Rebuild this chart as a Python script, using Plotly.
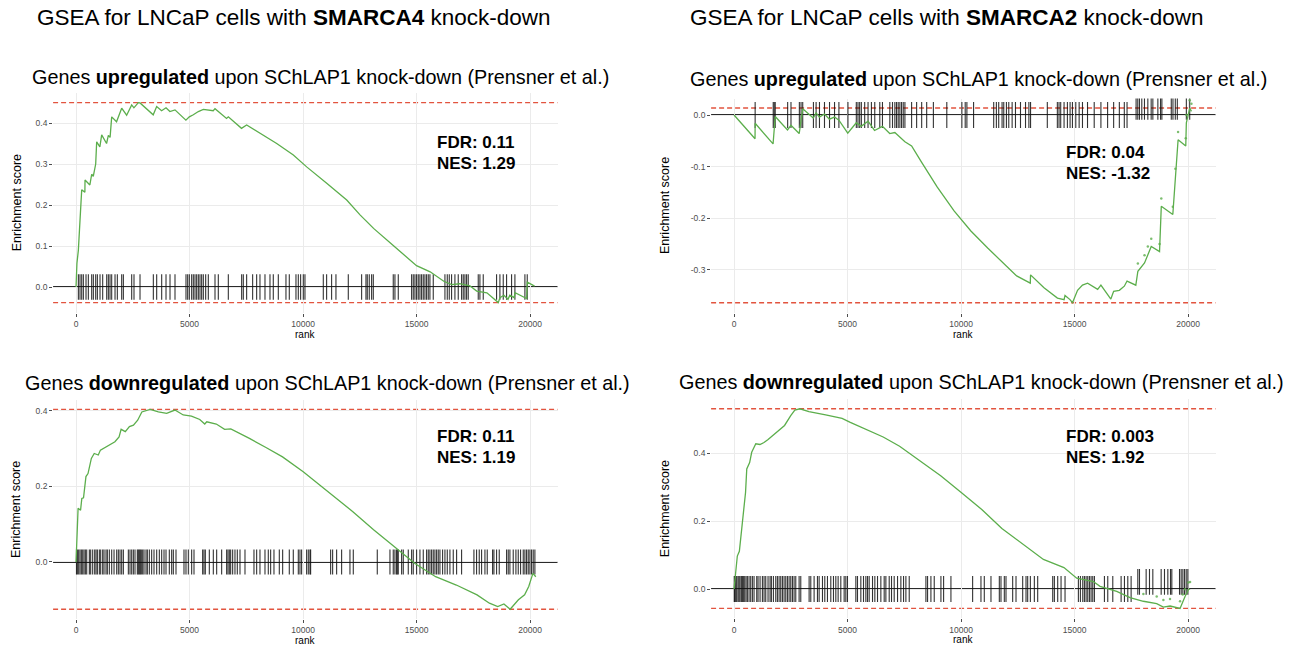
import plotly.graph_objects as go

W, H = 1296, 645
FONT = "Liberation Sans, Arial, Helvetica, sans-serif"

# ---------------- data ----------------
# Panel A: SMARCA4 knock-down, genes upregulated upon SChLAP1 knock-down
a_hits = [103, 176, 250, 323, 440, 543, 690, 763, 866, 940, 1057, 1174, 1351, 1424, 1497, 1571,
          1718, 1820, 2011, 2085, 2452, 2554, 2819, 3406, 3553, 3773, 3964, 4140, 4360, 4844, 4918,
          4991, 5094, 5167, 5241, 5314, 5388, 5461, 5534, 5608, 5711, 5828, 6122, 6268, 6709, 7296,
          7369, 7516, 7780, 7957, 8103, 8324, 8544, 8690, 8911, 9248, 9395, 9689, 9792, 9894, 10012,
          10085, 10893, 11039, 11259, 11450, 11994, 12581, 12772, 12830, 12918, 13021, 13095, 13975,
          14049, 14196, 14783, 14856, 14930, 15003, 15076, 15150, 15223, 15297, 15370, 15443, 15517,
          15590, 15737, 16251, 16354, 16442, 16544, 16691, 16838, 16985, 17058, 17132, 17205, 17278,
          17719, 17792, 17939, 18526, 18673, 18820, 18967, 19187, 19334, 19774, 19877]
a_rank = [0, 40, 103, 176, 250, 390, 396, 610, 690, 760, 866, 910, 1050, 1130, 1345, 1424, 1500,
          1571, 1785, 2011, 2230, 2452, 2550, 2746, 2819, 3400, 3553, 3770, 3964, 4135, 4360, 4840,
          4991, 5167, 5388, 5608, 6045, 6122, 6630, 6709, 7290, 7516, 8103, 8840, 9573, 10160,
          11043, 11925, 12511, 13107, 14000, 15000, 15600, 16200, 16550, 16900, 17350, 17650,
          18100, 18600, 18673, 18850, 19030, 19110, 19300, 19340, 19850, 19877, 20200]
a_es = [0.0, 0.058, 0.09, 0.168, 0.237, 0.231, 0.261, 0.249, 0.275, 0.27, 0.3, 0.354, 0.342, 0.371,
        0.35, 0.37, 0.365, 0.415, 0.403, 0.436, 0.419, 0.444, 0.437, 0.4496, 0.449, 0.42, 0.44, 0.43,
        0.437, 0.428, 0.432, 0.407, 0.415, 0.42, 0.428, 0.433, 0.43, 0.435, 0.411, 0.415, 0.387,
        0.395, 0.375, 0.35, 0.322, 0.293, 0.253, 0.212, 0.176, 0.143, 0.1, 0.052, 0.037, 0.014,
        0.006, 0.008, 0.003, -0.01, -0.014, -0.038, -0.026, -0.02, -0.03, -0.02, -0.026, -0.014,
        -0.028, 0.012, 0.002]

# Panel B: SMARCA2 knock-down, genes upregulated upon SChLAP1 knock-down
b_hits = [930, 1727, 1771, 1815, 2362, 2509, 2878, 2952, 3026, 3498, 3616, 3764, 3985, 4207, 4428,
          4620, 5018, 5387, 5461, 5535, 5609, 5756, 5904, 6052, 6199, 6421, 6539, 6863, 6981, 7085,
          7159, 7232, 7306, 7380, 7454, 7528, 7823, 8044, 8266, 8487, 8782, 9373, 10037, 10184,
          10258, 10553, 11439, 11557, 11660, 11808, 11882, 12000, 12103, 12251, 12398, 12620, 12841,
          12989, 13063, 13801, 14243, 14317, 14391, 14539, 14686, 14804, 14908, 15055, 15203, 15350,
          15572, 15867, 16162, 16457, 16723, 16974, 17193, 17313]
b_hits_late = [17712, 17786, 17860, 17963, 18081, 18229, 18376, 18450, 18671, 18789, 18848, 19262,
               19336, 19439, 19528, 19926, 20074]
b_rank = [0, 925, 930, 1720, 1815, 2355, 2509, 2870, 3026, 3490, 3616, 3760, 3985, 4200, 4428, 4620,
          5010, 5387, 5600, 5904, 6190, 6539, 6860, 7085, 7528, 7823, 8266, 8954, 9694, 10434, 11174,
          11914, 12450, 13050, 13063, 13655, 14247, 14540, 14580, 14800, 14910, 15133, 15350, 15576,
          16019, 16162, 16600, 16723, 16974, 17193, 17313, 17700, 17790, 18083, 18229, 18379, 18745,
          18822, 19330, 19442, 19562, 19900, 19926, 20074, 20150]
b_es = [0.0, -0.046, -0.016, -0.056, -0.003, -0.029, -0.02, -0.036, 0.012, -0.006, 0.004, -0.004,
        0.002, -0.008, -0.004, -0.01, -0.035, -0.015, -0.022, -0.012, -0.03, -0.022, -0.036, -0.034,
        -0.052, -0.06, -0.092, -0.14, -0.186, -0.225, -0.258, -0.29, -0.312, -0.326, -0.31, -0.335,
        -0.355, -0.358, -0.35, -0.358, -0.364, -0.34, -0.33, -0.326, -0.338, -0.33, -0.357, -0.342,
        -0.34, -0.332, -0.322, -0.33, -0.303, -0.287, -0.27, -0.255, -0.265, -0.177, -0.193, -0.119,
        -0.048, -0.06, -0.015, 0.0135, 0.007]

# Panel C: SMARCA4 knock-down, genes downregulated upon SChLAP1 knock-down
c_hits = [20, 59, 117, 176, 235, 294, 352, 411, 470, 587, 646, 734, 822, 881, 940, 1028, 1086, 1174,
          1233, 1321, 1380, 1468, 1571, 1674, 1791, 1864, 1938, 2011, 2085, 2305, 2378, 2452, 2525,
          2598, 2701, 2745, 2789, 2833, 2877, 2936, 2995, 3083, 3142, 3230, 3332, 3435, 3553, 3670,
          3773, 3876, 3964, 4110, 4213, 4287, 4404, 4756, 4844, 4947, 5094, 5197, 5578, 5637, 5696,
          5872, 6048, 6195, 6415, 6635, 6694, 6753, 6812, 6900, 7002, 7105, 7223, 7443, 7839, 7957,
          8103, 8324, 8470, 8573, 8720, 8955, 9102, 9395, 9571, 9792, 9865, 9938, 10158, 10232,
          10305, 10335, 11216, 11304, 11480, 11700, 12067, 12214, 13271, 13829, 13975, 14049, 14122,
          14152, 14196, 14343, 14416, 14636, 14783, 14856, 15003, 15150, 15297, 15443, 15517, 15590,
          15664, 15737, 15810, 15884, 15957, 16031, 16148, 16251, 16354, 16471, 16618, 16765, 16985,
          17528, 17645, 17763, 17866, 18013, 18115, 18350, 18409, 18526, 18644, 18967, 19040, 19113,
          19260, 19378, 19481, 19583, 19701, 19774, 19848, 19921, 19994, 20068, 20141, 20214]
c_rank = [0, 36, 91, 200, 255, 330, 437, 528, 675, 802, 980, 1075, 1440, 1714, 1896, 1987, 2170,
          2352, 2530, 2716, 2899, 3263, 3628, 3992, 4357, 4722, 5086, 5451, 5670, 5760, 6180, 6545,
          6818, 7092, 7638, 8368, 9097, 10008, 11284, 12196, 13108, 14019, 14930, 15842, 16753,
          17665, 18212, 18577, 18850, 19123, 19488, 19761, 19943, 20126, 20254]
c_es = [0.0, 0.063, 0.142, 0.137, 0.168, 0.17, 0.226, 0.234, 0.274, 0.287, 0.283, 0.296, 0.309,
        0.318, 0.331, 0.351, 0.345, 0.358, 0.362, 0.375, 0.397, 0.4035, 0.397, 0.393, 0.402, 0.389,
        0.386, 0.377, 0.365, 0.371, 0.365, 0.351, 0.352, 0.344, 0.327, 0.303, 0.278, 0.239, 0.177,
        0.133, 0.085, 0.041, -0.004, -0.039, -0.061, -0.087, -0.109, -0.118, -0.111, -0.125, -0.1,
        -0.087, -0.065, -0.03, -0.039]

# Panel D: SMARCA2 knock-down, genes downregulated upon SChLAP1 knock-down
d_hits = [10, 29, 74, 118, 176, 221, 265, 323, 368, 412, 470, 529, 588, 662, 735, 809, 882, 1000,
          1058, 1147, 1250, 1323, 1397, 1499, 1588, 1646, 1735, 1838, 1911, 1985, 2058, 2132, 2205,
          2279, 2352, 2426, 2499, 2573, 2646, 2720, 2867, 2940, 3308, 3381, 3528, 3675, 3749, 3896,
          3998, 4116, 4263, 4381, 4484, 4586, 4704, 4851, 4925, 4998, 5366, 5439, 5586, 5704, 5807,
          5880, 5954, 6101, 6203, 6321, 6468, 6615, 6689, 6836, 6938, 7056, 7203, 7350, 7468, 7571,
          7718, 8453, 8526, 8673, 8820, 9114, 9232, 9555, 10511, 10878, 11025, 11319, 11687, 11760,
          11907, 11981, 12275, 12422, 12716, 12863, 12936, 13054, 13230, 13377, 14039, 14112, 14259,
          14406, 14582, 15170, 15259, 15362, 15435, 15509, 15582, 15656, 15729, 15803, 15876, 16317,
          16464, 16685, 17052, 17199, 17346, 17493]
d_hits_late = [17787, 17861, 18155, 18302, 18449, 18816, 18963, 19110, 19228, 19286, 19625, 19698,
               19772, 19845, 19919, 19992]
d_rank = [0, 54, 145, 235, 326, 416, 507, 561, 688, 778, 959, 1140, 1321, 1500, 1683, 1955, 2226,
          2498, 2679, 2900, 3300, 4036, 4760, 5122, 5846, 6570, 7294, 8199, 9104, 10009, 10914,
          11800, 12724, 13629, 14534, 15095, 15830, 16123, 16858, 17445, 18032, 18620, 18913, 19207,
          19648, 19765, 19868, 20015, 20089]
d_es = [0.0, 0.037, 0.097, 0.111, 0.175, 0.23, 0.284, 0.353, 0.372, 0.402, 0.427, 0.425, 0.431,
        0.44, 0.451, 0.466, 0.481, 0.51, 0.526, 0.53, 0.522, 0.512, 0.502, 0.49, 0.468, 0.447, 0.42,
        0.377, 0.333, 0.284, 0.234, 0.178, 0.133, 0.087, 0.063, 0.032, 0.022, 0.008, -0.007, -0.025,
        -0.036, -0.043, -0.053, -0.05, -0.057, -0.037, -0.022, -0.002, 0.0]

x_ticks = [0, 5000, 10000, 15000, 20000]
x_ticklabels = ["0", "5000", "10000", "15000", "20000"]
a_yticks, a_yticklabels = [0.0, 0.1, 0.2, 0.3, 0.4], ["0.0", "0.1", "0.2", "0.3", "0.4"]
b_yticks, b_yticklabels = [-0.3, -0.2, -0.1, 0.0], ["-0.3", "-0.2", "-0.1", "0.0"]
c_yticks, c_yticklabels = [0.0, 0.2, 0.4], ["0.0", "0.2", "0.4"]
d_yticks, d_yticklabels = [0.0, 0.2, 0.4], ["0.0", "0.2", "0.4"]

stats = {"a": ("0.11", "1.29"), "b": ("0.04", "-1.32"), "c": ("0.11", "1.19"), "d": ("0.003", "1.92")}

# ---------------- layout of the four panels (pixel boxes) ----------------
panels = {
    "a": dict(xpx=(53.1, 557.5), ypx=(92.5, 312.6), yr=(-0.0624, 0.4744),
              hits=a_hits, late=None, seg=(-0.031, 0.031), late_seg=None,
              rank=a_rank, es=a_es, yt=(a_yticks, a_yticklabels)),
    "b": dict(xpx=(711.1, 1215.5), ypx=(98.5, 312.5), yr=(-0.383, 0.032),
              hits=b_hits, late=b_hits_late, seg=(-0.025, 0.025), late_seg=(-0.009, 0.040),
              rank=b_rank, es=b_es, yt=(b_yticks, b_yticklabels)),
    "c": dict(xpx=(53.1, 557.5), ypx=(399.5, 619.2), yr=(-0.1514, 0.4299),
              hits=c_hits, late=None, seg=(-0.033, 0.033), late_seg=None,
              rank=c_rank, es=c_es, yt=(c_yticks, c_yticklabels)),
    "d": dict(xpx=(711.1, 1215.5), ypx=(398.8, 618.4), yr=(-0.0864, 0.5594),
              hits=d_hits, late=d_hits_late, seg=(-0.038, 0.038), late_seg=(-0.017, 0.059),
              rank=d_rank, es=d_es, yt=(d_yticks, d_yticklabels)),
}

GREEN = "#5cae4c"
RED = "#e2543f"
GRID = "#ebebeb"
TICK_COLOR = "rgba(15,15,15,0.85)"

fig = go.Figure()
layout = dict(width=W, height=H, margin=dict(l=0, r=0, t=0, b=0),
              paper_bgcolor="white", plot_bgcolor="white", showlegend=False,
              font=dict(family=FONT, color="black"))
shapes, annotations = [], []


def segs(positions, lo, hi):
    xs, ys = [], []
    for r in positions:
        xs += [r, r, None]
        ys += [lo, hi, None]
    return xs, ys


for i, (key, p) in enumerate(panels.items(), start=1):
    sfx = "" if i == 1 else str(i)
    xa, ya = "x" + sfx, "y" + sfx
    xname, yname = "xaxis" + sfx, "yaxis" + sfx
    xd = [p["xpx"][0] / W, p["xpx"][1] / W]
    yd = [1 - p["ypx"][1] / H, 1 - p["ypx"][0] / H]
    common = dict(showgrid=True, gridcolor=GRID, gridwidth=1, zeroline=False, showline=False,
                  ticks="outside", ticklen=3, tickwidth=1, tickcolor="#4d4d4d",
                  tickfont=dict(family=FONT, size=8.5, color="#4d4d4d"))
    layout[xname] = dict(domain=xd, range=[-1010, 21210], anchor=ya, tickmode="array",
                         tickvals=x_ticks, ticktext=x_ticklabels, **common)
    layout[yname] = dict(domain=yd, range=list(p["yr"]), anchor=xa, tickmode="array",
                         tickvals=p["yt"][0], ticktext=p["yt"][1], **common)

    # max / min enrichment reference lines
    for lvl in (max(p["es"]), min(p["es"])):
        shapes.append(dict(type="line", xref=f"{xa} domain", yref=ya, x0=0, x1=1, y0=lvl, y1=lvl,
                           line=dict(color=RED, width=1.4, dash="5px,3px"), layer="below"))
    # zero line
    shapes.append(dict(type="line", xref=f"{xa} domain", yref=ya, x0=0, x1=1, y0=0, y1=0,
                       line=dict(color="#2a2a2a", width=2), layer="below"))

    # gene-set hit positions
    sx, sy = segs(p["hits"], *p["seg"])
    fig.add_trace(go.Scatter(x=sx, y=sy, mode="lines", xaxis=xa, yaxis=ya, hoverinfo="skip",
                             line=dict(color=TICK_COLOR, width=1.1)))
    if p["late"]:
        lx, ly = segs(p["late"], *p["late_seg"])
        fig.add_trace(go.Scatter(x=lx, y=ly, mode="lines", xaxis=xa, yaxis=ya, hoverinfo="skip",
                                 line=dict(color=TICK_COLOR, width=1.1)))
        # faint raised copy of the running score along the same stretch
        shift = p["late_seg"][1] - p["seg"][1]
        tail = [(r, e + shift) for r, e in zip(p["rank"], p["es"]) if r >= p["late"][0]]
        fig.add_trace(go.Scatter(x=[t[0] for t in tail], y=[t[1] for t in tail], mode="markers",
                                 xaxis=xa, yaxis=ya, hoverinfo="skip",
                                 marker=dict(color=GREEN, size=2.5, opacity=0.8)))

    # running enrichment score
    fig.add_trace(go.Scatter(x=p["rank"], y=p["es"], mode="lines", xaxis=xa, yaxis=ya,
                             line=dict(color=GREEN, width=1.3)))

    # axis titles
    xc = (p["xpx"][0] + p["xpx"][1]) / 2
    yc = (p["ypx"][0] + p["ypx"][1]) / 2
    ylab_x = 16.7 if p["xpx"][0] < 600 else 664.6
    annotations.append(dict(text="Enrichment score", textangle=-90, x=ylab_x / W, y=1 - yc / H,
                            xref="paper", yref="paper", showarrow=False, xanchor="center",
                            yanchor="middle", font=dict(family=FONT, size=12.5, color="black")))
    annotations.append(dict(text="rank", x=xc / W, y=1 - (p["ypx"][1] + 21.5) / H,
                            xref="paper", yref="paper", showarrow=False, xanchor="center",
                            yanchor="middle", font=dict(family=FONT, size=10, color="black")))

    # FDR / NES
    fdr, nes = stats[key]
    fx = 434.6 if p["xpx"][0] < 600 else 1063.7
    fy = {"a": 142.7, "b": 152.7, "c": 436.7, "d": 436.7}[key]
    for j, t in enumerate([f"<b>FDR: {fdr}</b>", f"<b>NES: {nes}</b>"]):
        annotations.append(dict(text=t, x=fx / W, y=1 - (fy + 20.5 * j) / H, xref="paper",
                                yref="paper", showarrow=False, xanchor="left", yanchor="middle",
                                font=dict(family=FONT, size=17, color="black")))

# headings
heads = [
    ("GSEA for LNCaP cells with <b>SMARCA4</b> knock-down", 35, 17.5, 22.5),
    ("GSEA for LNCaP cells with <b>SMARCA2</b> knock-down", 687.5, 17.5, 22.5),
    ("Genes <b>upregulated</b> upon SChLAP1 knock-down (Prensner et al.)", 30, 77, 19.8),
    ("Genes <b>upregulated</b> upon SChLAP1 knock-down (Prensner et al.)", 687.5, 79, 19.8),
    ("Genes <b>downregulated</b> upon SChLAP1 knock-down (Prensner et al.)", 23, 383.3, 19.8),
    ("Genes <b>downregulated</b> upon SChLAP1 knock-down (Prensner et al.)", 677, 382, 19.8),
]
for text, x, y, size in heads:
    annotations.append(dict(text=text, x=x / W, y=1 - y / H, xref="paper", yref="paper",
                            showarrow=False, xanchor="left", yanchor="middle",
                            font=dict(family=FONT, size=size, color="black")))

layout["shapes"] = shapes
layout["annotations"] = annotations
fig.update_layout(**layout)
fig.write_html("out.html")
